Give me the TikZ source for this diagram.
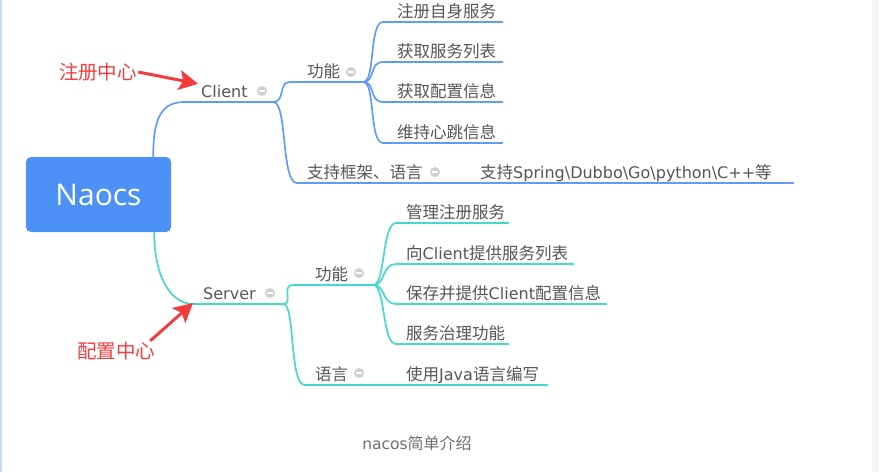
\documentclass[tikz,border=0pt]{standalone}
\usepackage{fontspec}
\setmainfont{Noto Sans CJK SC}
\newfontfamily\lat[Scale=0.97]{DejaVu Sans}
\newfontfamily\boxfont{Open Sans}
\usetikzlibrary{arrows.meta}

\definecolor{boxblue}{RGB}{76,145,245}
\definecolor{lineblue}{RGB}{95,155,248}
\definecolor{lineteal}{RGB}{70,215,205}
\definecolor{txtgray}{RGB}{85,85,85}
\definecolor{foldgray}{RGB}{208,208,208}
\definecolor{annored}{RGB}{245,60,60}
\definecolor{capgray}{RGB}{110,110,110}
\definecolor{edgeblue}{RGB}{200,218,240}
\definecolor{edgegray}{RGB}{245,245,245}

\begin{document}
\begin{tikzpicture}[x=1pt, y=-1pt,
    lbl/.style={anchor=south west, inner xsep=0pt, inner ysep=1.5pt, text width=#1, align=left,
      text height=12pt, text depth=3pt, text=txtgray, font=\fontsize{16.5}{19}\selectfont},
    fold/.style={circle, fill=foldgray, minimum size=10pt, inner sep=0pt,
      path picture={\draw[white, line width=1.2pt]
        ([xshift=-2.8pt]path picture bounding box.center) -- ([xshift=2.8pt]path picture bounding box.center);}},
    bl/.style={draw=lineblue, line width=1.7pt, line cap=round},
    tl/.style={draw=lineteal, line width=1.7pt, line cap=round},
    anno/.style={text=annored, inner sep=1pt, font=\fontsize{19.5}{22}\selectfont},
    pointer/.style={draw=annored, fill=annored, line width=3pt,
      -{Stealth[length=19pt, width=20pt, inset=4pt]}}
  ]
      \useasboundingbox (0,0) rectangle (887,472);
      \fill[edgegray] (872,0) rectangle (879,472);
      \draw[edgeblue, line width=1.5pt] (0.75,0) -- (0.75,472);

      \node[fill=boxblue, rounded corners=5pt, minimum width=145pt, minimum height=75pt,
        text=white, font=\boxfont\fontsize{30}{36}\selectfont] (nc) at (98.5,194.5) {Naocs};

      % Client
      \node[lbl=72] (cl) at (201,102) {{\lat Client}};
      \node[lbl=56] (cf) at (307,82) {功能};
      \node[lbl=105] (k1) at (397,22) {注册自身服务};
      \node[lbl=105] (k2) at (397,62) {获取服务列表};
      \node[lbl=105] (k3) at (397,102) {获取配置信息};
      \node[lbl=105] (k4) at (397,143) {维持心跳信息};
      \node[lbl=150] (cs) at (307,183) {支持框架、语言};
      \node[lbl=313] (cx) at (480,183) {支持{\lat Spring\textbackslash Dubbo\textbackslash Go\textbackslash python\textbackslash C++}等};
      \node[fold] (clf) at (262,91) {};
      \node[fold] (cff) at (351,72) {};
      \node[fold] (csf) at (435,172) {};

      \draw[bl] ([xshift=-18pt]nc.north east) .. controls +(0,-42) and +(-22,0) .. ([xshift=-16pt]cl.south west) -- (cl.south east);
      \draw[bl] (cl.south east) .. controls +(12,0) and +(-12,0) .. ([xshift=-17pt]cf.south west) -- (cf.south east);
      \draw[bl] (cl.south east) .. controls +(14,0) and +(-16,0) .. ([xshift=-10pt]cs.south west) -- (cs.south east);
      \draw[bl] (cs.south east) -- (cx.south west) -- (cx.south east);
      \draw[bl] (cf.south east) .. controls +(12,0) and +(-14,0) .. ([xshift=-14pt]k1.south west) -- (k1.south east);
      \draw[bl] (cf.south east) .. controls +(12,0) and +(-14,0) .. ([xshift=-14pt]k2.south west) -- (k2.south east);
      \draw[bl] (cf.south east) .. controls +(12,0) and +(-14,0) .. ([xshift=-14pt]k3.south west) -- (k3.south east);
      \draw[bl] (cf.south east) .. controls +(12,0) and +(-14,0) .. ([xshift=-14pt]k4.south west) -- (k4.south east);

      % Server
      \node[lbl=80] (sv) at (203,304) {{\lat Server}};
      \node[lbl=58] (sf) at (315,285) {功能};
      \node[lbl=102] (m1) at (406,223) {管理注册服务};
      \node[lbl=167] (m2) at (406,264) {向{\lat Client}提供服务列表};
      \node[lbl=200] (m3) at (406,304) {保存并提供{\lat Client}配置信息};
      \node[lbl=102] (m4) at (406,344) {服务治理功能};
      \node[lbl=80] (sl) at (315,385) {语言};
      \node[lbl=141] (sj) at (406,385) {使用{\lat Java}语言编写};
      \node[fold] (svf) at (270,293) {};
      \node[fold] (sff) at (359,273) {};
      \node[fold] (slf) at (359,373) {};

      \draw[tl] ([xshift=-17pt]nc.south east) .. controls +(0,45) and +(-22,0) .. ([xshift=-10pt]sv.south west) -- (sv.south east);
      \draw[tl] (sv.south east) .. controls +(10,0) and +(-12,0) .. ([xshift=-22pt]sf.south west) -- (sf.south east);
      \draw[tl] (sv.south east) .. controls +(12,0) and +(-16,0) .. ([xshift=-10pt]sl.south west) -- (sl.south east);
      \draw[tl] (sl.south east) -- (sj.south west) -- (sj.south east);
      \draw[tl] (sf.south east) .. controls +(12,0) and +(-14,0) .. ([xshift=-10pt]m1.south west) -- (m1.south east);
      \draw[tl] (sf.south east) .. controls +(12,0) and +(-14,0) .. ([xshift=-10pt]m2.south west) -- (m2.south east);
      \draw[tl] (sf.south east) .. controls +(12,0) and +(-14,0) .. ([xshift=-10pt]m3.south west) -- (m3.south east);
      \draw[tl] (sf.south east) .. controls +(12,0) and +(-14,0) .. ([xshift=-10pt]m4.south west) -- (m4.south east);

      % notes
      \node[anno] (zc) at (98,72) {注册中心};
      \node[anno] (zp) at (116,351) {配置中心};
      \draw[pointer] (zc.east) -- ([xshift=-3pt,yshift=9pt]cl.west);
      \draw[pointer] ([xshift=-6pt]zp.north east) -- ([xshift=-10pt,yshift=1pt]sv.south west);

      \node[text=capgray, font=\fontsize{16}{19}\selectfont] (cap) at (417,443) {{\lat nacos}简单介绍};
    \end{tikzpicture}
\end{document}
